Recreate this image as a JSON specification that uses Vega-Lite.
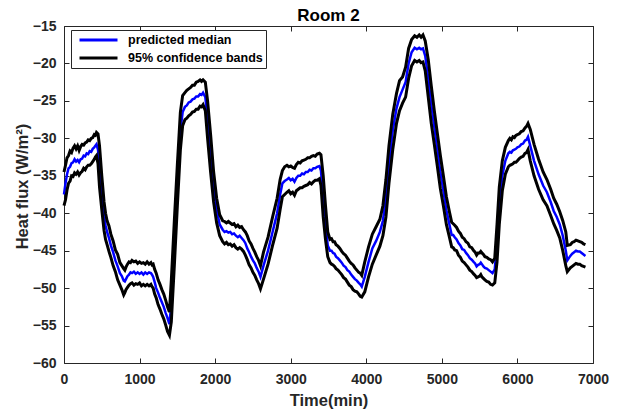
{
"$schema": "https://vega.github.io/schema/vega-lite/v6.json",
"width": 529, "height": 337,
"autosize": "none",
"padding": {"left": 64, "top": 26, "right": 25, "bottom": 49},
"config": {"font": "Liberation Sans", "view": {"stroke": null}},
"title": {"text": "Room 2", "fontSize": 17, "fontWeight": "bold", "font": "Liberation Sans", "color": "#000000", "offset": -6, "anchor": "middle"},
"data": {"values": [
{"t":0,"m":-37.5,"u":-34.5,"l":-39.0},
{"t":20,"m":-36.0,"u":-33.6,"l":-38.2},
{"t":40,"m":-34.8,"u":-32.6,"l":-36.9},
{"t":60,"m":-34.0,"u":-32.3,"l":-36.0},
{"t":80,"m":-33.8,"u":-31.7,"l":-35.7},
{"t":100,"m":-33.3,"u":-31.9,"l":-35.0},
{"t":120,"m":-33.2,"u":-31.3,"l":-35.1},
{"t":140,"m":-32.8,"u":-31.0,"l":-34.6},
{"t":160,"m":-33.1,"u":-31.4,"l":-34.8},
{"t":180,"m":-32.9,"u":-31.0,"l":-34.5},
{"t":200,"m":-33.2,"u":-31.6,"l":-34.9},
{"t":220,"m":-32.8,"u":-31.1,"l":-34.6},
{"t":240,"m":-32.7,"u":-30.8,"l":-34.4},
{"t":260,"m":-32.3,"u":-30.9,"l":-34.0},
{"t":280,"m":-32.4,"u":-30.6,"l":-34.2},
{"t":300,"m":-32.0,"u":-30.5,"l":-33.8},
{"t":320,"m":-32.1,"u":-30.2,"l":-33.6},
{"t":340,"m":-31.7,"u":-30.3,"l":-33.6},
{"t":360,"m":-31.8,"u":-30.0,"l":-33.4},
{"t":380,"m":-31.4,"u":-29.9,"l":-33.1},
{"t":400,"m":-31.2,"u":-29.5,"l":-32.8},
{"t":415,"m":-31.0,"u":-29.6,"l":-32.5},
{"t":430,"m":-30.8,"u":-29.2,"l":-32.3},
{"t":450,"m":-31.5,"u":-29.4,"l":-33.4},
{"t":470,"m":-34.0,"u":-31.0,"l":-36.5},
{"t":500,"m":-37.5,"u":-35.0,"l":-39.5},
{"t":530,"m":-40.5,"u":-38.5,"l":-42.3},
{"t":550,"m":-41.6,"u":-40.0,"l":-43.5},
{"t":570,"m":-42.5,"u":-41.0,"l":-44.2},
{"t":595,"m":-43.3,"u":-41.7,"l":-45.1},
{"t":620,"m":-44.3,"u":-42.8,"l":-45.9},
{"t":650,"m":-45.2,"u":-43.7,"l":-47.0},
{"t":680,"m":-46.3,"u":-44.9,"l":-47.8},
{"t":710,"m":-47.1,"u":-45.5,"l":-48.9},
{"t":740,"m":-48.0,"u":-46.6,"l":-49.6},
{"t":765,"m":-48.4,"u":-47.0,"l":-50.2},
{"t":790,"m":-49.0,"u":-47.4,"l":-50.9},
{"t":805,"m":-49.1,"u":-47.6,"l":-50.6},
{"t":820,"m":-48.8,"u":-47.2,"l":-50.2},
{"t":840,"m":-48.4,"u":-46.8,"l":-49.9},
{"t":860,"m":-48.2,"u":-46.5,"l":-49.6},
{"t":880,"m":-47.9,"u":-46.6,"l":-49.4},
{"t":900,"m":-48.0,"u":-46.3,"l":-49.3},
{"t":925,"m":-47.8,"u":-46.5,"l":-49.6},
{"t":950,"m":-48.1,"u":-46.4,"l":-49.4},
{"t":975,"m":-47.9,"u":-46.7,"l":-49.5},
{"t":1000,"m":-48.1,"u":-46.5,"l":-49.3},
{"t":1025,"m":-47.9,"u":-46.7,"l":-49.7},
{"t":1050,"m":-48.2,"u":-46.6,"l":-49.5},
{"t":1075,"m":-47.9,"u":-46.8,"l":-49.7},
{"t":1100,"m":-48.1,"u":-46.5,"l":-49.5},
{"t":1125,"m":-47.9,"u":-46.8,"l":-49.7},
{"t":1150,"m":-48.0,"u":-46.6,"l":-49.5},
{"t":1165,"m":-48.2,"u":-46.9,"l":-49.8},
{"t":1180,"m":-48.5,"u":-46.8,"l":-50.0},
{"t":1200,"m":-49.2,"u":-47.5,"l":-50.8},
{"t":1220,"m":-50.0,"u":-48.0,"l":-51.3},
{"t":1245,"m":-50.6,"u":-48.9,"l":-52.2},
{"t":1270,"m":-51.3,"u":-49.5,"l":-52.8},
{"t":1295,"m":-51.9,"u":-50.2,"l":-53.5},
{"t":1320,"m":-52.5,"u":-50.8,"l":-54.1},
{"t":1345,"m":-53.3,"u":-51.6,"l":-54.9},
{"t":1370,"m":-54.0,"u":-52.5,"l":-55.8},
{"t":1395,"m":-54.8,"u":-53.2,"l":-56.3},
{"t":1420,"m":-52.0,"u":-49.0,"l":-54.5},
{"t":1460,"m":-44.0,"u":-41.0,"l":-47.0},
{"t":1500,"m":-36.0,"u":-33.5,"l":-39.0},
{"t":1540,"m":-29.0,"u":-26.5,"l":-31.5},
{"t":1570,"m":-26.5,"u":-24.3,"l":-28.3},
{"t":1600,"m":-25.8,"u":-23.9,"l":-27.5},
{"t":1625,"m":-25.6,"u":-23.6,"l":-27.3},
{"t":1650,"m":-25.2,"u":-23.4,"l":-27.0},
{"t":1675,"m":-25.1,"u":-23.2,"l":-26.8},
{"t":1700,"m":-24.8,"u":-22.9,"l":-26.5},
{"t":1725,"m":-24.7,"u":-22.9,"l":-26.4},
{"t":1750,"m":-24.4,"u":-22.5,"l":-26.1},
{"t":1775,"m":-24.4,"u":-22.4,"l":-26.1},
{"t":1800,"m":-24.1,"u":-22.2,"l":-25.7},
{"t":1820,"m":-24.2,"u":-22.4,"l":-25.8},
{"t":1840,"m":-23.9,"u":-22.2,"l":-25.5},
{"t":1870,"m":-24.5,"u":-22.5,"l":-26.3},
{"t":1900,"m":-27.5,"u":-25.0,"l":-30.0},
{"t":1940,"m":-32.0,"u":-29.5,"l":-34.5},
{"t":1980,"m":-36.5,"u":-34.5,"l":-38.5},
{"t":2020,"m":-39.5,"u":-38.0,"l":-41.3},
{"t":2060,"m":-41.5,"u":-40.2,"l":-43.0},
{"t":2100,"m":-42.2,"u":-41.0,"l":-43.8},
{"t":2125,"m":-42.5,"u":-41.1,"l":-44.1},
{"t":2150,"m":-42.4,"u":-41.3,"l":-43.9},
{"t":2175,"m":-42.6,"u":-41.1,"l":-44.2},
{"t":2200,"m":-42.5,"u":-41.3,"l":-44.1},
{"t":2225,"m":-42.8,"u":-41.5,"l":-44.4},
{"t":2250,"m":-42.7,"u":-41.4,"l":-44.2},
{"t":2275,"m":-43.0,"u":-41.8,"l":-44.6},
{"t":2300,"m":-43.2,"u":-41.6,"l":-44.8},
{"t":2325,"m":-43.0,"u":-41.9,"l":-44.6},
{"t":2350,"m":-43.3,"u":-41.8,"l":-44.8},
{"t":2375,"m":-43.6,"u":-42.2,"l":-45.1},
{"t":2400,"m":-44.0,"u":-42.5,"l":-45.6},
{"t":2425,"m":-44.7,"u":-43.0,"l":-46.2},
{"t":2450,"m":-45.2,"u":-43.7,"l":-46.9},
{"t":2475,"m":-45.8,"u":-44.1,"l":-47.3},
{"t":2500,"m":-46.3,"u":-44.7,"l":-47.9},
{"t":2525,"m":-46.7,"u":-45.2,"l":-48.3},
{"t":2550,"m":-47.3,"u":-45.8,"l":-48.9},
{"t":2575,"m":-47.8,"u":-46.3,"l":-49.4},
{"t":2600,"m":-48.5,"u":-47.0,"l":-50.1},
{"t":2640,"m":-47.0,"u":-45.2,"l":-48.8},
{"t":2700,"m":-45.0,"u":-43.2,"l":-46.8},
{"t":2760,"m":-42.5,"u":-40.5,"l":-44.3},
{"t":2820,"m":-40.0,"u":-38.0,"l":-42.0},
{"t":2860,"m":-37.5,"u":-35.5,"l":-39.5},
{"t":2890,"m":-36.0,"u":-34.3,"l":-37.8},
{"t":2920,"m":-35.7,"u":-33.8,"l":-37.5},
{"t":2950,"m":-35.5,"u":-33.6,"l":-37.2},
{"t":2975,"m":-35.3,"u":-33.8,"l":-37.0},
{"t":3000,"m":-35.6,"u":-33.7,"l":-37.4},
{"t":3025,"m":-35.4,"u":-33.9,"l":-37.2},
{"t":3050,"m":-35.8,"u":-34.0,"l":-37.6},
{"t":3075,"m":-35.3,"u":-33.5,"l":-37.0},
{"t":3100,"m":-35.0,"u":-33.2,"l":-36.8},
{"t":3125,"m":-35.0,"u":-33.3,"l":-36.6},
{"t":3150,"m":-34.7,"u":-33.0,"l":-36.6},
{"t":3175,"m":-34.8,"u":-32.9,"l":-36.4},
{"t":3200,"m":-34.5,"u":-32.8,"l":-36.3},
{"t":3225,"m":-34.5,"u":-32.6,"l":-36.2},
{"t":3250,"m":-34.2,"u":-32.6,"l":-35.9},
{"t":3275,"m":-34.3,"u":-32.4,"l":-36.1},
{"t":3300,"m":-34.0,"u":-32.3,"l":-35.8},
{"t":3325,"m":-34.0,"u":-32.4,"l":-35.6},
{"t":3350,"m":-33.8,"u":-32.1,"l":-35.6},
{"t":3380,"m":-33.7,"u":-32.0,"l":-35.4},
{"t":3400,"m":-34.3,"u":-32.2,"l":-36.3},
{"t":3430,"m":-38.0,"u":-35.0,"l":-40.5},
{"t":3460,"m":-41.5,"u":-39.0,"l":-43.5},
{"t":3490,"m":-44.3,"u":-42.5,"l":-45.8},
{"t":3520,"m":-45.0,"u":-43.5,"l":-46.6},
{"t":3540,"m":-45.0,"u":-43.4,"l":-46.8},
{"t":3560,"m":-45.3,"u":-43.8,"l":-46.9},
{"t":3580,"m":-45.4,"u":-43.8,"l":-47.1},
{"t":3600,"m":-45.8,"u":-44.2,"l":-47.4},
{"t":3625,"m":-46.0,"u":-44.4,"l":-47.6},
{"t":3650,"m":-46.3,"u":-44.7,"l":-47.9},
{"t":3675,"m":-46.6,"u":-45.1,"l":-48.2},
{"t":3700,"m":-47.0,"u":-45.4,"l":-48.6},
{"t":3725,"m":-47.2,"u":-45.6,"l":-48.8},
{"t":3750,"m":-47.6,"u":-46.0,"l":-49.2},
{"t":3775,"m":-47.8,"u":-46.4,"l":-49.6},
{"t":3800,"m":-48.2,"u":-46.7,"l":-49.8},
{"t":3825,"m":-48.5,"u":-46.9,"l":-50.2},
{"t":3850,"m":-48.8,"u":-47.3,"l":-50.4},
{"t":3875,"m":-49.0,"u":-47.6,"l":-50.5},
{"t":3900,"m":-49.3,"u":-47.9,"l":-50.8},
{"t":3920,"m":-49.5,"u":-48.0,"l":-51.1},
{"t":3940,"m":-49.8,"u":-48.3,"l":-51.2},
{"t":3980,"m":-48.5,"u":-46.5,"l":-50.5},
{"t":4030,"m":-46.5,"u":-44.5,"l":-48.5},
{"t":4080,"m":-44.7,"u":-42.8,"l":-46.8},
{"t":4130,"m":-43.7,"u":-41.8,"l":-45.6},
{"t":4180,"m":-42.5,"u":-40.8,"l":-44.4},
{"t":4220,"m":-41.0,"u":-39.0,"l":-43.0},
{"t":4260,"m":-38.0,"u":-35.5,"l":-40.5},
{"t":4300,"m":-33.5,"u":-31.0,"l":-36.0},
{"t":4350,"m":-29.0,"u":-26.8,"l":-31.5},
{"t":4400,"m":-26.0,"u":-24.0,"l":-28.0},
{"t":4440,"m":-24.5,"u":-22.3,"l":-26.3},
{"t":4480,"m":-23.5,"u":-21.8,"l":-25.3},
{"t":4520,"m":-22.5,"u":-20.5,"l":-24.5},
{"t":4560,"m":-20.0,"u":-18.0,"l":-22.0},
{"t":4600,"m":-18.5,"u":-16.8,"l":-20.3},
{"t":4640,"m":-17.9,"u":-16.3,"l":-19.6},
{"t":4670,"m":-18.1,"u":-16.5,"l":-19.8},
{"t":4700,"m":-17.9,"u":-16.2,"l":-19.6},
{"t":4725,"m":-18.1,"u":-16.5,"l":-19.9},
{"t":4750,"m":-18.0,"u":-16.2,"l":-19.8},
{"t":4780,"m":-19.0,"u":-17.0,"l":-21.0},
{"t":4820,"m":-22.0,"u":-19.5,"l":-24.5},
{"t":4860,"m":-25.5,"u":-23.0,"l":-28.0},
{"t":4900,"m":-28.5,"u":-26.3,"l":-30.8},
{"t":4940,"m":-31.5,"u":-29.3,"l":-33.7},
{"t":4980,"m":-34.5,"u":-32.3,"l":-36.7},
{"t":5020,"m":-37.0,"u":-35.0,"l":-39.0},
{"t":5060,"m":-39.6,"u":-37.8,"l":-41.5},
{"t":5100,"m":-41.5,"u":-39.8,"l":-43.2},
{"t":5130,"m":-42.9,"u":-41.2,"l":-44.5},
{"t":5150,"m":-42.9,"u":-41.4,"l":-44.6},
{"t":5170,"m":-43.2,"u":-41.6,"l":-44.9},
{"t":5195,"m":-43.5,"u":-41.9,"l":-45.0},
{"t":5220,"m":-44.0,"u":-42.4,"l":-45.6},
{"t":5245,"m":-44.3,"u":-42.7,"l":-45.9},
{"t":5270,"m":-44.8,"u":-43.2,"l":-46.4},
{"t":5295,"m":-44.9,"u":-43.4,"l":-46.6},
{"t":5320,"m":-45.3,"u":-43.8,"l":-46.9},
{"t":5345,"m":-45.6,"u":-44.0,"l":-47.2},
{"t":5370,"m":-46.0,"u":-44.5,"l":-47.6},
{"t":5395,"m":-46.2,"u":-44.6,"l":-47.8},
{"t":5420,"m":-46.5,"u":-45.0,"l":-48.1},
{"t":5440,"m":-46.7,"u":-45.2,"l":-48.3},
{"t":5460,"m":-47.1,"u":-45.6,"l":-48.6},
{"t":5480,"m":-46.9,"u":-45.3,"l":-48.5},
{"t":5500,"m":-46.8,"u":-45.3,"l":-48.4},
{"t":5515,"m":-46.6,"u":-45.1,"l":-48.2},
{"t":5530,"m":-46.8,"u":-45.3,"l":-48.5},
{"t":5550,"m":-47.1,"u":-45.5,"l":-48.7},
{"t":5570,"m":-47.3,"u":-45.8,"l":-48.9},
{"t":5595,"m":-47.4,"u":-45.9,"l":-49.1},
{"t":5620,"m":-47.6,"u":-46.1,"l":-49.2},
{"t":5645,"m":-47.8,"u":-46.2,"l":-49.5},
{"t":5670,"m":-48.0,"u":-46.5,"l":-49.6},
{"t":5700,"m":-47.5,"u":-46.0,"l":-49.3},
{"t":5730,"m":-44.0,"u":-41.5,"l":-46.5},
{"t":5760,"m":-39.0,"u":-36.5,"l":-41.5},
{"t":5800,"m":-35.0,"u":-33.0,"l":-37.0},
{"t":5840,"m":-33.0,"u":-31.2,"l":-34.8},
{"t":5880,"m":-32.0,"u":-30.3,"l":-33.8},
{"t":5900,"m":-31.8,"u":-30.0,"l":-33.6},
{"t":5920,"m":-31.9,"u":-30.2,"l":-33.5},
{"t":5940,"m":-31.6,"u":-29.8,"l":-33.4},
{"t":5960,"m":-31.5,"u":-29.9,"l":-33.2},
{"t":5980,"m":-31.4,"u":-29.6,"l":-33.2},
{"t":6000,"m":-31.2,"u":-29.5,"l":-33.0},
{"t":6025,"m":-31.1,"u":-29.4,"l":-32.7},
{"t":6050,"m":-30.8,"u":-29.1,"l":-32.5},
{"t":6075,"m":-30.7,"u":-29.0,"l":-32.4},
{"t":6100,"m":-30.3,"u":-28.6,"l":-32.0},
{"t":6120,"m":-30.2,"u":-28.4,"l":-31.9},
{"t":6140,"m":-29.8,"u":-28.0,"l":-31.5},
{"t":6170,"m":-31.0,"u":-28.8,"l":-33.0},
{"t":6220,"m":-33.0,"u":-30.8,"l":-35.0},
{"t":6280,"m":-34.8,"u":-32.8,"l":-36.8},
{"t":6340,"m":-36.3,"u":-34.5,"l":-38.2},
{"t":6390,"m":-37.2,"u":-35.5,"l":-39.0},
{"t":6440,"m":-38.5,"u":-36.8,"l":-40.3},
{"t":6480,"m":-39.7,"u":-38.0,"l":-41.4},
{"t":6520,"m":-40.5,"u":-38.8,"l":-42.3},
{"t":6560,"m":-41.5,"u":-39.8,"l":-43.3},
{"t":6600,"m":-43.0,"u":-41.0,"l":-45.0},
{"t":6640,"m":-45.0,"u":-42.5,"l":-47.0},
{"t":6660,"m":-46.3,"u":-44.3,"l":-47.8},
{"t":6700,"m":-45.7,"u":-44.2,"l":-47.3},
{"t":6725,"m":-45.4,"u":-43.9,"l":-47.1},
{"t":6750,"m":-45.2,"u":-43.8,"l":-46.9},
{"t":6775,"m":-45.0,"u":-43.6,"l":-46.7},
{"t":6800,"m":-45.1,"u":-43.7,"l":-46.8},
{"t":6825,"m":-45.1,"u":-43.8,"l":-46.8},
{"t":6850,"m":-45.3,"u":-43.9,"l":-47.0},
{"t":6875,"m":-45.5,"u":-44.1,"l":-47.1},
{"t":6900,"m":-45.7,"u":-44.2,"l":-47.2}
]},
"layer": [
{
"mark": {"type": "line", "strokeWidth": 2.5},
"encoding": {
"x": {"field": "t", "type": "quantitative", "scale": {"domain": [0, 7000], "nice": false},
 "axis": {"orient": "bottom", "values": [0,1000,2000,3000,4000,5000,6000,7000], "format": "d", "title": "Time(min)", "grid": false,
 "tickSize": -5, "labelPadding": 14, "labelFlush": false, "labelFontSize": 14, "labelFontWeight": "bold", "labelColor": "#262626",
 "titleFontSize": 16.5, "titleFontWeight": "bold", "titleColor": "#262626", "titlePadding": 6,
 "domainColor": "#262626", "tickColor": "#262626"}},
"y": {"field": "m", "type": "quantitative", "scale": {"domain": [-60, -15], "nice": false},
 "axis": {"orient": "left", "values": [-60,-55,-50,-45,-40,-35,-30,-25,-20,-15], "title": "Heat flux (W/m²)", "grid": false,
 "tickSize": -5, "labelPadding": 13, "labelFlush": false, "labelFontSize": 14, "labelFontWeight": "bold", "labelColor": "#262626",
 "titleFontSize": 16.5, "titleFontWeight": "bold", "titleColor": "#262626", "titlePadding": 2, "titleY": 160,
 "domainColor": "#262626", "tickColor": "#262626"}},
"color": {"datum": "predicted median", "type": "nominal",
 "scale": {"domain": ["predicted median", "95% confidence bands"], "range": ["#0000ff", "#000000"]},
 "legend": {"orient": "none", "legendX": 7, "legendY": 4, "title": null, "symbolType": "stroke", "symbolSize": 1444,
 "symbolStrokeWidth": 3, "symbolOffset": 4, "labelOffset": 9, "clipHeight": 14, "rowPadding": 4, "padding": 3,
 "strokeColor": "#262626", "fillColor": "#ffffff", "labelFontSize": 12.5, "labelFontWeight": "bold", "labelColor": "#000000", "labelFont": "Liberation Sans"}}
}
},
{
"transform": [{"fold": ["u", "l"], "as": ["band", "v"]}],
"mark": {"type": "line", "strokeWidth": 3},
"encoding": {
"x": {"field": "t", "type": "quantitative",
 "axis": {"orient": "top", "values": [0,1000,2000,3000,4000,5000,6000,7000], "title": null, "labels": false, "grid": false,
 "tickSize": -5, "domainColor": "#262626", "tickColor": "#262626"}},
"y": {"field": "v", "type": "quantitative",
 "axis": {"orient": "right", "values": [-60,-55,-50,-45,-40,-35,-30,-25,-20,-15], "title": null, "labels": false, "grid": false,
 "tickSize": -5, "domainColor": "#262626", "tickColor": "#262626"}},
"detail": {"field": "band", "type": "nominal"},
"color": {"datum": "95% confidence bands", "type": "nominal"}
}
}
],
"resolve": {"axis": {"x": "independent", "y": "independent"}}
}
